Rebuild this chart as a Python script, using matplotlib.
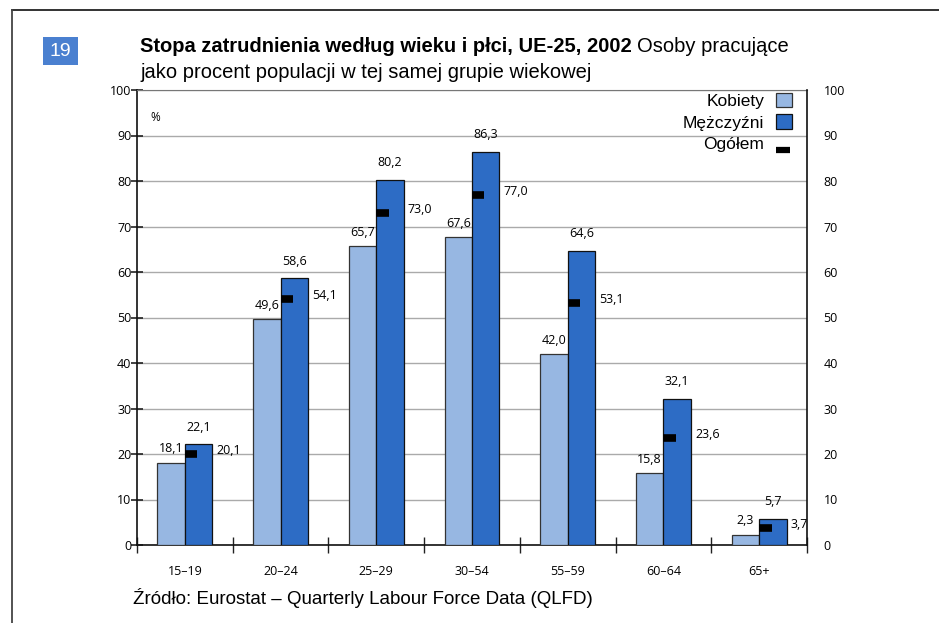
import matplotlib
matplotlib.use("Agg")
import matplotlib.pyplot as plt
from matplotlib.patches import Patch, Rectangle
from matplotlib.lines import Line2D
from matplotlib.legend_handler import HandlerBase
import numpy as np

categories = ["15–19", "20–24", "25–29", "30–54", "55–59", "60–64", "65+"]
kobiety = [18.1, 49.6, 65.7, 67.6, 42.0, 15.8, 2.3]
mezczyzni = [22.1, 58.6, 80.2, 86.3, 64.6, 32.1, 5.7]
ogolem = [20.1, 54.1, 73.0, 77.0, 53.1, 23.6, 3.7]
yticks = [0, 10, 20, 30, 40, 50, 60, 70, 80, 90, 100]

def fmt(v):
    return f"{v:.1f}".replace(".", ",")

W, H = 939, 623
fig = plt.figure(figsize=(W / 100, H / 100), dpi=100)

def fx(px):
    return px / W

def fy(py):
    return 1 - py / H

# frame lines
fig.add_artist(Line2D([fx(12), 1.0], [fy(10), fy(10)], color="#222222", lw=1.3))
fig.add_artist(Line2D([fx(12), fx(12)], [fy(10), 0.0], color="#444444", lw=1.3))

# number box
fig.add_artist(Rectangle((fx(43), fy(65)), fx(78) - fx(43), fy(37) - fy(65),
                         facecolor="#4a80d0", edgecolor="none"))
fig.text(fx(60.5), fy(51), "19", color="white", fontsize=14, ha="center", va="center",
         family="Liberation Sans")

# title
TS = 14.5
t1 = fig.text(fx(140), fy(47), "Stopa zatrudnienia według wieku i płci, UE-25, 2002",
              fontsize=TS, fontweight="bold", family="Liberation Sans", va="center", ha="left")
fig.canvas.draw()
r = fig.canvas.get_renderer()
bb = t1.get_window_extent(r)
fig.text(bb.x1 / W + fx(5), fy(47), "Osoby pracujące", fontsize=TS,
         family="Liberation Sans", va="center", ha="left")
fig.text(fx(140), fy(72), "jako procent populacji w tej samej grupie wiekowej", fontsize=TS,
         family="Liberation Sans", va="center", ha="left")

# source
fig.text(fx(133), fy(598), "Źródło: Eurostat – Quarterly Labour Force Data (QLFD)",
         fontsize=13.5, family="Liberation Sans", va="center", ha="left")

ax = fig.add_axes([fx(137), fy(545), fx(807) - fx(137), fy(90) - fy(545)])
x = np.arange(len(categories))
w = 0.287
c_k = "#97b7e2"
c_m = "#2d6cc5"
ax.bar(x - w, kobiety, width=w, align="edge", color=c_k, edgecolor="#333333", lw=0.9, zorder=3)
ax.bar(x, mezczyzni, width=w, align="edge", color=c_m, edgecolor="#111111", lw=0.9, zorder=3)
ax.hlines(ogolem, x, x + 0.13, color="black", lw=5.5, zorder=4)

num_font = "Open Sans"
for i in range(len(categories)):
    ax.annotate(fmt(kobiety[i]), (x[i] - w / 2, kobiety[i]), xytext=(0, 10), textcoords="offset points",
                ha="center", va="center", fontsize=9, family=num_font)
    ax.annotate(fmt(mezczyzni[i]), (x[i] + w / 2, mezczyzni[i]), xytext=(0, 12.5), textcoords="offset points",
                ha="center", va="center", fontsize=9, family=num_font)
    ax.annotate(fmt(ogolem[i]), (x[i] + w, ogolem[i]), xytext=(3, 2.5), textcoords="offset points",
                ha="left", va="center", fontsize=9, family=num_font)

ax.set_xlim(-0.5, len(categories) - 0.5)
ax.set_ylim(0, 100)
ax.set_yticks(yticks)
ax.set_yticklabels([str(v) for v in yticks], family=num_font, fontsize=9)
ax.tick_params(axis="y", direction="inout", length=8, width=1.2, pad=0, color="#222222")

ax.set_xticks(np.arange(len(categories) + 1) - 0.5)
ax.set_xticklabels([])
ax.set_xticks(x, minor=True)
ax.set_xticklabels(categories, minor=True, family=num_font, fontsize=9)
ax.tick_params(axis="x", which="major", direction="inout", length=11, width=1.0, color="#222222")
ax.tick_params(axis="x", which="minor", length=0, pad=14.5)

# right axis labels
ax2 = ax.twinx()
ax2.set_ylim(0, 100)
ax2.set_yticks(yticks)
ax2.set_yticklabels([str(v) for v in yticks], family=num_font, fontsize=9)
ax2.tick_params(axis="y", length=0, pad=12)
for s in ["top", "left", "bottom"]:
    ax2.spines[s].set_visible(False)
ax2.spines["right"].set_color("#111111")
ax2.spines["right"].set_linewidth(1.2)

ax.grid(axis="y", color="#aaaaaa", lw=1.0, zorder=0)
ax.set_axisbelow(True)
ax.spines["left"].set_color("#111111")
ax.spines["left"].set_linewidth(1.2)
ax.spines["bottom"].set_color("#111111")
ax.spines["bottom"].set_linewidth(1.2)
ax.spines["top"].set_color("#777777")
ax.spines["right"].set_visible(False)

ax.text(0.02, 0.94, "%", transform=ax.transAxes, fontsize=8.5, family=num_font, ha="left", va="center")


class DashHandler(HandlerBase):
    def create_artists(self, legend, orig_handle, xdescent, ydescent, width, height, fontsize, trans):
        y = -ydescent + height * 0.0
        line = Line2D([-xdescent, -xdescent + width * 0.85], [y, y], color="black", lw=4.5,
                      solid_capstyle="butt", transform=trans)
        return [line]


dash = Line2D([0], [0], color="black", lw=4.5)
handles = [Patch(facecolor=c_k, edgecolor="#333333", lw=0.9),
           Patch(facecolor=c_m, edgecolor="#111111", lw=0.9),
           dash]
leg = ax.legend(handles, ["Kobiety", "Mężczyźni", "Ogółem"], loc="upper right",
                bbox_to_anchor=(fx(792), fy(93)), bbox_transform=fig.transFigure,
                frameon=False, markerfirst=False, handlelength=0.9, handleheight=0.9,
                handletextpad=0.7, labelspacing=0.3, borderaxespad=0, borderpad=0,
                handler_map={dash: DashHandler()},
                prop={"family": "Liberation Sans", "size": 12.5})
for t in leg.get_texts():
    t.set_ha("right")

fig.savefig("out.png", dpi=100)
